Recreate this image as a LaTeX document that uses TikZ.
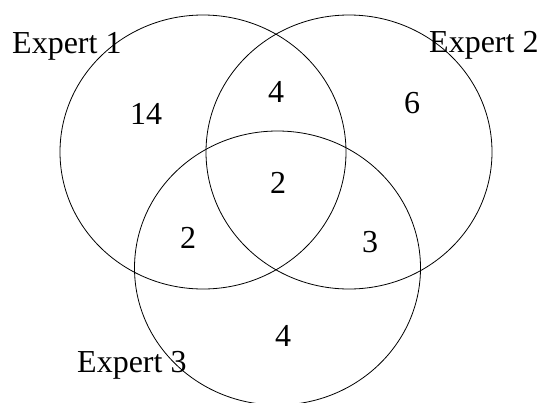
\documentclass[tikz,border=0pt]{standalone}
\usepackage{fontspec}
\setmainfont{Liberation Serif}
\begin{document}
\begin{tikzpicture}[x=1pt,y=-1pt,
  venn/.style={draw=black,line width=0.8pt},
  lbl/.style={inner sep=0pt,font=\fontsize{32}{38}\selectfont,anchor=base},
  explbl/.style={inner sep=0pt,font=\fontsize{32}{38}\selectfont,anchor=base west}]
\useasboundingbox (0,0) rectangle (538,402);
\clip (0,0) rectangle (538,402);
\draw[venn] (203,152) ellipse [x radius=143, y radius=137];
\draw[venn] (349,152) ellipse [x radius=143, y radius=137];
\draw[venn] (277.5,268) ellipse [x radius=143, y radius=137];
\node[explbl] (e1) at (12,53) {Expert 1};
\node[explbl] (e2) at (429,52) {Expert 2};
\node[explbl] (e3) at (77,372) {Expert 3};
\node[lbl] (n14) at (146,124) {14};
\node[lbl] (n4a) at (276,102) {4};
\node[lbl] (n6) at (412,113) {6};
\node[lbl] (n2c) at (278,193) {2};
\node[lbl] (n2l) at (188,248) {2};
\node[lbl] (n3) at (370,252) {3};
\node[lbl] (n4b) at (283,346) {4};
\end{tikzpicture}
\end{document}
